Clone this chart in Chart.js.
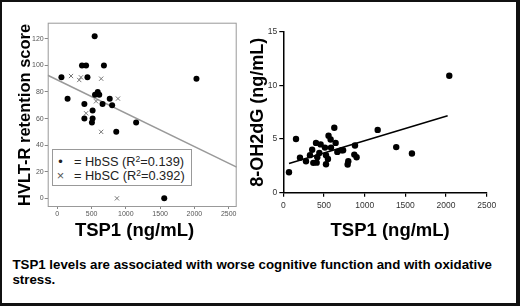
<!DOCTYPE html>
<html><head><meta charset="utf-8">
<script src="https://cdn.jsdelivr.net/npm/chart.js@4.4.1/dist/chart.umd.min.js"></script>
<style>
html,body{margin:0;padding:0;background:#fff;width:520px;height:306px;overflow:hidden;}
#frame{position:absolute;left:0;top:0;width:520px;height:306px;box-sizing:border-box;border:2px solid #111;border-right-width:4px;border-bottom-width:3px;}
canvas{position:absolute;}
#c1{left:0;top:0;}
#c2{left:240px;top:0;}
#legend{position:absolute;left:51.5px;top:149px;width:140px;height:37px;box-sizing:border-box;border:1px solid #999;background:#fff;font:12.8px 'Liberation Sans',Arial,sans-serif;color:#222;}
#legend .row{position:absolute;left:0;height:14px;line-height:14px;white-space:nowrap;}
#legend .mk{position:absolute;left:4px;width:8px;text-align:center;}
#legend .tx{position:absolute;left:21.5px;}
#legend sup{font-size:8.5px;line-height:0;vertical-align:4px;}
#caption{position:absolute;left:12.4px;top:257px;width:495px;font:bold 13.3px 'Liberation Sans',Arial,sans-serif;line-height:15px;color:#000;}
</style></head>
<body>
<div id="frame"></div>
<canvas id="c1" width="250" height="245"></canvas>
<canvas id="c2" width="275" height="245"></canvas>
<div id="legend">
  <div class="row" style="top:5px;"><span class="mk">&#8226;</span><span class="tx">= HbSS (R<sup>2</sup>=0.139)</span></div>
  <div class="row" style="top:19px;"><span class="mk" style="color:#555">&#215;</span><span class="tx">= HbSC (R<sup>2</sup>=0.392)</span></div>
</div>
<div id="caption">TSP1 levels are associated with worse cognitive function and with oxidative stress.</div>
<script>
// ---- Left chart data: HVLT-R retention score vs TSP1 ----
const hbssX = [60,150,360,420,545,680,440,395,395,550,590,612,660,765,800,515,515,505,860,1150,2030,1560];
const hbssY = [91,75,100,100,122,100,91,71,60,78,80,78,71,75,70,66,60,57,50,57,90,0];
const hbscX = [200,320,345,640,565,420,885,640,870];
const hbscY = [92,89,91,90,73,64,75,50,0];
const fitLeftX = [-140,2617];
const fitLeftY = [92.6,23.5];
const leftXTicks = [0,500,1000,1500,2000,2500];
const leftYTicks = [0,20,40,60,80,100,120];

// ---- Right chart data: 8-OH2dG vs TSP1 ----
const ohX = [70,156,205,279,328,355,369,402,410,418,443,459,512,525,525,549,556,582,586,627,643,664,717,735,791,799,881,873,901,1160,1388,1581,2040];
const ohY = [1.9,5.0,3.25,2.93,3.5,4.0,2.78,4.64,2.8,3.3,3.7,4.5,4.2,3.5,2.65,3.15,5.3,4.95,4.2,6.05,4.64,3.8,3.95,3.95,2.63,2.93,4.4,3.55,3.3,5.85,4.25,3.65,10.9];
const fitRightX = [70,2020];
const fitRightY = [2.72,7.17];
const rightXTicks = [0,500,1000,1500,2000,2500];
const rightYTicks = [0,5,10,15];

const pts = (xs, ys) => xs.map((x, i) => ({x, y: ys[i]}));
const plain = v => String(v);
const narrow = "'Liberation Sans Narrow','Arial Narrow','Liberation Sans',Arial,sans-serif";
const sans = "'Liberation Sans',Arial,sans-serif";

const boxPlugin = {
  id: 'box',
  beforeDatasetsDraw(chart) {
    const a = chart.chartArea, ctx = chart.ctx;
    ctx.save();
    ctx.strokeStyle = '#999';
    ctx.lineWidth = 1;
    ctx.strokeRect(a.left + 0.5, a.top + 0.5, a.right - a.left - 1, a.bottom - a.top - 1);
    ctx.restore();
  }
};

new Chart(document.getElementById('c1'), {
  type: 'scatter',
  data: { datasets: [
    { label: 'HbSS', data: pts(hbssX, hbssY), pointStyle: 'circle', pointRadius: 3, backgroundColor: '#000', borderColor: '#000', borderWidth: 0 },
    { label: 'HbSC', data: pts(hbscX, hbscY), pointStyle: 'crossRot', pointRadius: 3, borderColor: '#777', backgroundColor: '#777', borderWidth: 1 },
    { label: 'fit', data: pts(fitLeftX, fitLeftY), showLine: true, pointRadius: 0, borderColor: '#999', borderWidth: 1.5, fill: false }
  ]},
  options: {
    responsive: false, animation: false, devicePixelRatio: 1,
    layout: { padding: { left: 0, top: 22.7, right: 13.3, bottom: 0 } },
    plugins: { legend: { display: false }, tooltip: { enabled: false } },
    scales: {
      x: {
        type: 'linear', min: -140, max: 2617,
        afterFit: s => { s.height = 38; },
        afterBuildTicks: s => { s.ticks = leftXTicks.map(v => ({value: v})); },
        grid: { drawOnChartArea: false, drawTicks: true, tickLength: 2, color: '#888' },
        border: { display: false },
        ticks: { font: { family: narrow, size: 7 }, color: '#555', padding: 1, maxRotation: 0, autoSkip: false, callback: plain },
        title: { display: true, text: 'TSP1 (ng/mL)   ', color: '#000', font: { family: sans, size: 18.5, weight: 'bold' }, padding: { top: 0, bottom: 3.4 } }
      },
      y: {
        type: 'linear', min: -6.5, max: 132.1,
        afterFit: s => { s.width = 47.7; },
        afterBuildTicks: s => { s.ticks = leftYTicks.map(v => ({value: v})); },
        grid: { drawOnChartArea: false, drawTicks: true, tickLength: 3, color: '#888' },
        border: { display: false },
        ticks: { font: { family: narrow, size: 7 }, color: '#555', padding: 1, callback: plain },
        title: { display: true, text: 'HVLT-R retention score', color: '#000', font: { family: sans, size: 16.5, weight: 'bold' }, padding: { top: 16, bottom: 0 } }
      }
    }
  },
  plugins: [boxPlugin]
});

new Chart(document.getElementById('c2'), {
  type: 'scatter',
  data: { datasets: [
    { label: '8-OH2dG', data: pts(ohX, ohY), pointStyle: 'circle', pointRadius: 3.2, backgroundColor: '#000', borderColor: '#000', borderWidth: 0 },
    { label: 'fit', data: pts(fitRightX, fitRightY), showLine: true, pointRadius: 0, borderColor: '#000', borderWidth: 1.5, fill: false }
  ]},
  options: {
    responsive: false, animation: false, devicePixelRatio: 1,
    layout: { padding: { left: 0, top: 31.7, right: 28.3, bottom: 0 } },
    plugins: { legend: { display: false }, tooltip: { enabled: false } },
    scales: {
      x: {
        type: 'linear', min: 0, max: 2500,
        afterFit: s => { s.height = 52.3; },
        afterBuildTicks: s => { s.ticks = rightXTicks.map(v => ({value: v})); },
        grid: { drawOnChartArea: false, drawTicks: true, tickLength: 4, color: '#000', lineWidth: 1.2 },
        border: { display: true, color: '#000', width: 1.5 },
        ticks: { font: { family: narrow, size: 8.5 }, color: '#333', padding: 4, maxRotation: 0, autoSkip: false, callback: plain },
        title: { display: true, text: '  TSP1 (ng/mL)', color: '#000', font: { family: sans, size: 18.5, weight: 'bold' }, padding: { top: 0, bottom: 3.4 } }
      },
      y: {
        type: 'linear', min: 0, max: 15,
        afterFit: s => { s.width = 43.3; },
        afterBuildTicks: s => { s.ticks = rightYTicks.map(v => ({value: v})); },
        grid: { drawOnChartArea: false, drawTicks: true, tickLength: 4, color: '#000', lineWidth: 1.2 },
        border: { display: true, color: '#000', width: 1.5 },
        ticks: { font: { family: narrow, size: 8.5 }, color: '#333', padding: 2, callback: plain },
        title: { display: true, text: '8-OH2dG (ng/mL)', color: '#000', font: { family: sans, size: 18, weight: 'bold' }, padding: { top: 7.2, bottom: 0 } }
      }
    }
  }
});
</script>
</body></html>
